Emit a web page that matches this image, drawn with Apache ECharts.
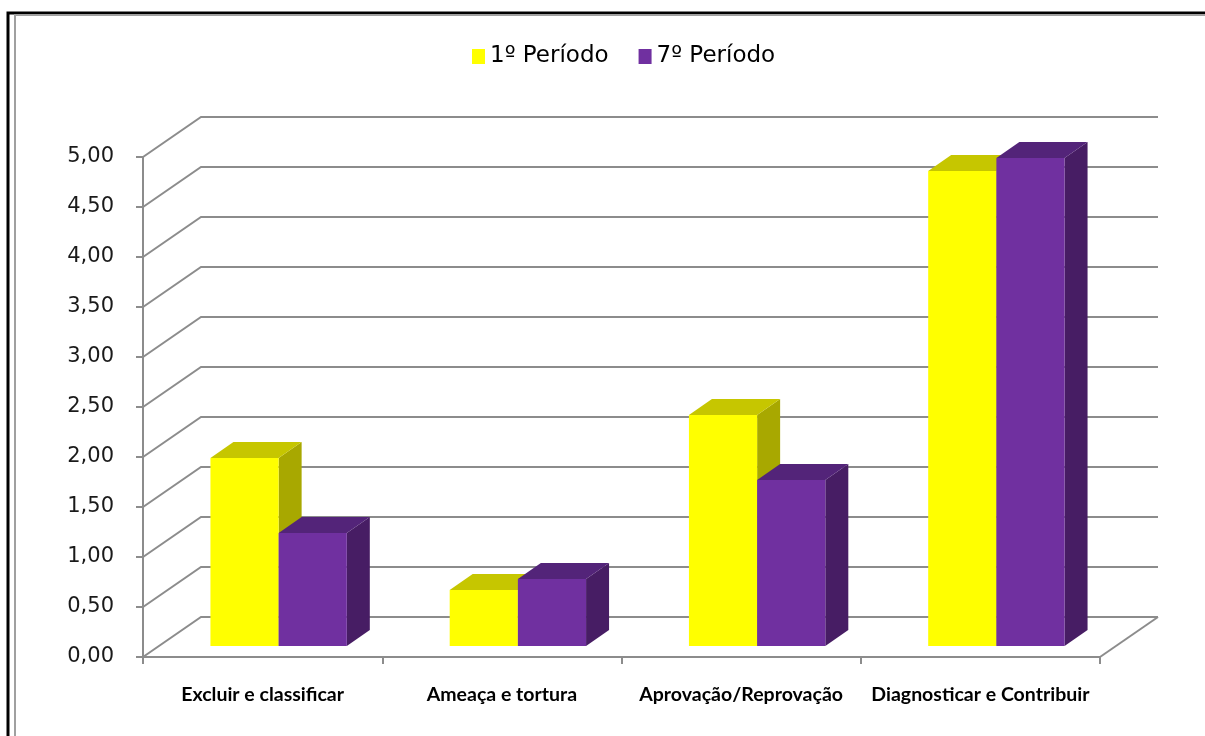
<!DOCTYPE html>
<html>
<head>
<meta charset="utf-8">
<script src="https://cdn.jsdelivr.net/npm/echarts@6/dist/echarts.min.js"></script>
<style>
  html, body { margin: 0; padding: 0; background: #fff; }
  #chart { width: 1205px; height: 736px; }
</style>
</head>
<body>
<div id="chart"></div>
<script>
// dados do gráfico
var categorias = ['Excluir e classificar', 'Ameaça e tortura', 'Aprovação/Reprovação', 'Diagnosticar e Contribuir'];
var periodo1 = [1.88, 0.56, 2.31, 4.75];
var periodo7 = [1.13, 0.67, 1.66, 4.88];
var yTicks = [0, 0.5, 1, 1.5, 2, 2.5, 3, 3.5, 4, 4.5, 5];

var chart = echarts.init(document.getElementById('chart'));

// profundidade da "parede" 3D e das barras (px)
var WALL = [58, -40];
var FRONT = [16, -11];
var DEPTH = [23, -16];

function barRenderer(lado, cores) {
  return function (params, api) {
    var base = api.coord([api.value(0), 0]);
    var topo = api.coord([api.value(0), api.value(1)]);
    var w = api.size([1, 0])[0] * 0.285;
    var x0 = base[0] + FRONT[0] + (lado < 0 ? -w : 0);
    var x1 = x0 + w;
    var yb = base[1] + FRONT[1];
    var yt = topo[1] + FRONT[1];
    return {
      type: 'group',
      children: [
        { type: 'polygon', shape: { points: [[x1, yt], [x1 + DEPTH[0], yt + DEPTH[1]], [x1 + DEPTH[0], yb + DEPTH[1]], [x1, yb]] }, style: { fill: cores[2] } },
        { type: 'polygon', shape: { points: [[x0, yt], [x0 + DEPTH[0], yt + DEPTH[1]], [x1 + DEPTH[0], yt + DEPTH[1]], [x1, yt]] }, style: { fill: cores[1] } },
        { type: 'rect', shape: { x: x0, y: yt, width: w, height: yb - yt }, style: { fill: cores[0] } }
      ]
    };
  };
}

function paredeRenderer(params, api) {
  var cs = params.coordSys;
  var p = api.coord([0, api.value(1)]);
  var xl = cs.x, xr = cs.x + cs.width, y = p[1];
  var children = [{
    type: 'polyline',
    shape: { points: [[xl, y], [xl + WALL[0], y + WALL[1]], [xr + WALL[0], y + WALL[1]]] },
    style: { stroke: '#8c8c8c', lineWidth: 2, fill: null }
  }];
  if (api.value(1) === 0) {
    children.push({
      type: 'line',
      shape: { x1: xr, y1: y, x2: xr + WALL[0], y2: y + WALL[1] },
      style: { stroke: '#8c8c8c', lineWidth: 2 }
    });
  }
  return { type: 'group', children: children };
}

var option = {
  backgroundColor: '#fff',
  animation: false,
  graphic: [
    { type: 'rect', shape: { x: 8, y: 13, width: 1400, height: 900 }, style: { fill: null, stroke: '#000', lineWidth: 3 }, z: 100 },
    { type: 'rect', shape: { x: 15, y: 15, width: 1400, height: 900 }, style: { fill: null, stroke: '#a0a0a0', lineWidth: 2 }, z: 100 }
  ],
  legend: {
    top: 40,
    left: 467,
    itemWidth: 13,
    itemHeight: 15,
    itemGap: 30,
    icon: 'rect',
    textStyle: { fontFamily: 'DejaVu Sans', fontSize: 23, color: '#000' },
    data: ['1º Período', '7º Período']
  },
  grid: { left: 143, right: 105, top: 157, bottom: 79 },
  xAxis: {
    type: 'category',
    data: categorias,
    axisLine: { lineStyle: { color: '#8c8c8c', width: 2 } },
    axisTick: { show: true, length: 7, lineStyle: { color: '#8c8c8c', width: 2 } },
    axisLabel: { margin: 28, color: '#000', fontFamily: 'Lato', fontWeight: 'bold', fontSize: 19.5, interval: 0 },
    splitLine: { show: false }
  },
  yAxis: {
    type: 'value',
    min: 0,
    max: 5,
    interval: 0.5,
    axisLine: { show: true, lineStyle: { color: '#8c8c8c', width: 2 } },
    axisTick: { show: true, length: 7, lineStyle: { color: '#8c8c8c', width: 2 } },
    axisLabel: {
      margin: 29,
      color: '#1a1a1a',
      fontFamily: 'DejaVu Sans',
      fontSize: 21,
      formatter: function (v) { return v.toFixed(2).replace('.', ','); }
    },
    splitLine: { show: false }
  },
  series: [
    {
      name: 'parede',
      type: 'custom',
      silent: true,
      z: 1,
      renderItem: paredeRenderer,
      data: yTicks.map(function (v) { return [0, v]; })
    },
    {
      name: '1º Período',
      type: 'custom',
      z: 2,
      itemStyle: { color: '#ffff00' },
      renderItem: barRenderer(-1, ['#ffff00', '#c6c600', '#a8a800']),
      data: periodo1.map(function (v, i) { return [i, v]; })
    },
    {
      name: '7º Período',
      type: 'custom',
      z: 3,
      itemStyle: { color: '#7030a0' },
      renderItem: barRenderer(1, ['#7030a0', '#532479', '#471d64']),
      data: periodo7.map(function (v, i) { return [i, v]; })
    }
  ]
};

chart.setOption(option);
</script>
</body>
</html>
